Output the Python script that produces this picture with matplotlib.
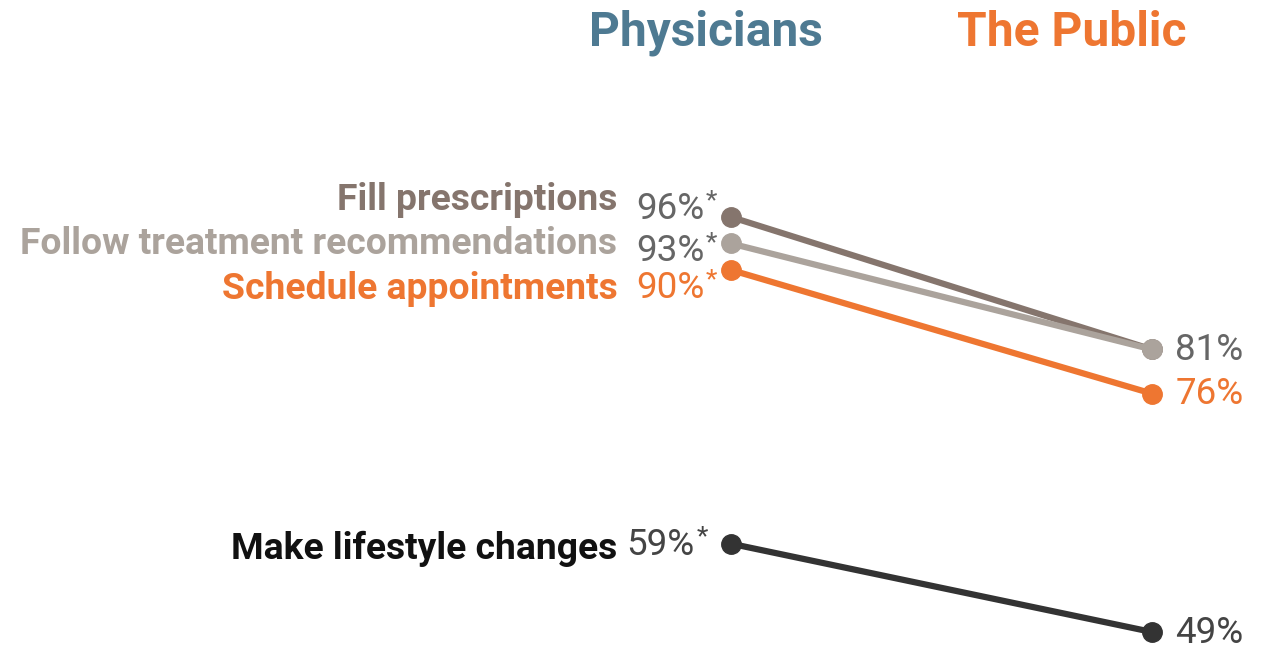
import matplotlib.pyplot as plt

plt.rcParams['font.family'] = ['Roboto', 'DejaVu Sans']

tasks = ["Fill prescriptions", "Follow treatment recommendations",
         "Schedule appointments", "Make lifestyle changes"]
physicians = [96, 93, 90, 59]
public = [81, 81, 76, 49]
line_colors = ["#85756d", "#aba39c", "#ee7631", "#333333"]
label_colors = ["#85756d", "#aba39c", "#ee7631", "#111111"]
value_colors = ["#666666", "#666666", "#ee7631", "#444444"]

# layout tweaks (in percent units) for the left-hand labels so they don't collide
label_shift = [1.9, -0.1, -2.2, -0.6]
value_shift = [0.9, -0.8, -2.0, -0.1]
value_x = [-0.225, -0.225, -0.225, -0.248]
right_shift = [-0.1, -0.1, -0.1, -0.1]

fig = plt.figure(figsize=(12.63, 6.5), dpi=100)
ax = fig.add_axes([0, 0, 1, 1])
ax.set_xlim(-731 / 421, (1263 - 731) / 421)
ax.set_ylim(96 - 433 / 8.83, 96 + 217 / 8.83)
ax.axis("off")

zorders = [3.0, 3.1, 3.2, 3.0]
for i, task in enumerate(tasks):
    ax.plot([0, 1], [physicians[i], public[i]], color=line_colors[i], lw=4.5,
            marker="o", ms=14, solid_capstyle="round", zorder=zorders[i])
    ax.text(-0.27, physicians[i] + label_shift[i], task, ha="right", va="center",
            fontsize=26.8, fontweight="bold", color=label_colors[i])
    t = ax.text(value_x[i], physicians[i] + value_shift[i], f"{physicians[i]}%",
                ha="left", va="center", fontsize=26.5, color=value_colors[i])
    ax.annotate("*", xy=(1, 1), xycoords=t, xytext=(1, 1), textcoords="offset points",
                ha="left", va="top", fontsize=19, color=value_colors[i])

# right side values (81% shared by first two series)
done = set()
for i in range(len(tasks)):
    if public[i] in done:
        continue
    done.add(public[i])
    ax.text(1.055, public[i] + right_shift[i], f"{public[i]}%", ha="left", va="center",
            fontsize=26.5, color=value_colors[i])

ax.text(-0.059, 96 + 184 / 8.83, "Physicians", ha="center", va="center",
        fontsize=34.5, fontweight="bold", color="#4e7a92")
ax.text(0.81, 96 + 184 / 8.83, "The Public", ha="center", va="center",
        fontsize=34.5, fontweight="bold", color="#ee7631")

fig.savefig("out.png", dpi=100)
